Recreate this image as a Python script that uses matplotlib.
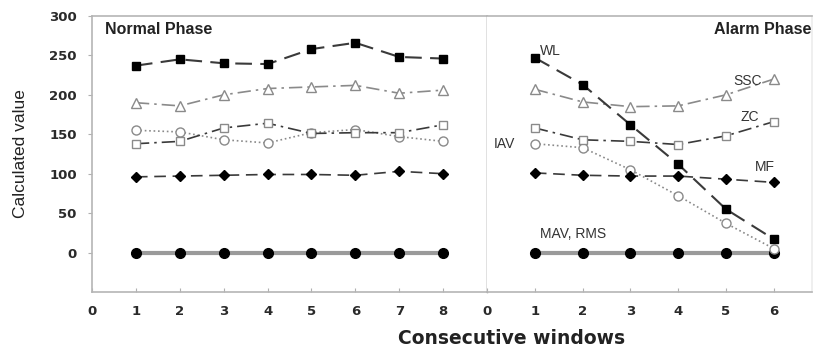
import matplotlib.pyplot as plt
import numpy as np

plt.rcParams['font.family'] = ['Liberation Sans', 'DejaVu Sans']

# normal phase, windows 1..8
normal_x = [1, 2, 3, 4, 5, 6, 7, 8]
normal_wl = [237, 245, 240, 239, 258, 266, 248, 246]
normal_ssc = [190, 186, 200, 208, 210, 212, 202, 206]
normal_zc = [138, 141, 158, 164, 151, 152, 152, 162]
normal_iav = [155, 153, 143, 139, 152, 156, 147, 141]
normal_mf = [96, 97, 98, 99, 99, 98, 103, 100]
normal_mav = [0, 0, 0, 0, 0, 0, 0, 0]

# alarm phase, windows 1..6
alarm_x = [1, 2, 3, 4, 5, 6]
alarm_wl = [247, 213, 162, 112, 55, 17]
alarm_ssc = [207, 191, 185, 186, 200, 220]
alarm_zc = [158, 143, 141, 137, 148, 166]
alarm_iav = [138, 133, 105, 72, 37, 5]
alarm_mf = [101, 98, 97, 97, 93, 89]
alarm_mav = [0, 0, 0, 0, 0, 0]

grey = '#8a8a8a'
dark = '#3a3a3a'


def draw(ax, x, wl, ssc, zc, iav, mf, mav):
    ax.plot(x, mav, '-', color='#9a9a9a', lw=3, marker='o', ms=7,
            mfc='black', mec='black', zorder=2)
    ax.plot(x, iav, ':', color=grey, lw=1.2, marker='o', ms=6.5,
            mfc='white', mec=grey, zorder=3)
    ax.plot(x, zc, color=dark, lw=1.2, dashes=[8, 3, 1.5, 3], marker='s', ms=6,
            mfc='white', mec=grey, zorder=3)
    ax.plot(x, ssc, color=grey, lw=1.2, dashes=[8, 3, 1.5, 3], marker='^', ms=7,
            mfc='white', mec=grey, zorder=3)
    ax.plot(x, mf, color=dark, lw=1.2, dashes=[7, 4], marker='D', ms=5.5,
            mfc='black', mec='black', zorder=4)
    ax.plot(x, wl, color=dark, lw=1.5, dashes=[8, 4], marker='s', ms=6,
            mfc='black', mec='black', zorder=5)


fig = plt.figure(figsize=(8.18, 3.47), dpi=100)
ax1 = fig.add_axes([0.1125, 0.1585, 0.4829, 0.7955])
ax2 = fig.add_axes([0.5954, 0.1585, 0.3973, 0.7955], sharey=ax1)

draw(ax1, normal_x, normal_wl, normal_ssc, normal_zc, normal_iav, normal_mf, normal_mav)
draw(ax2, alarm_x, alarm_wl, alarm_ssc, alarm_zc, alarm_iav, alarm_mf, alarm_mav)

ax1.set_xlim(0, 9)
ax2.set_xlim(0, 6.8)
ax1.set_ylim(-50, 300)
ax1.set_yticks(range(0, 301, 50))
ax1.set_xticks(range(0, 9))
ax2.set_xticks(range(0, 7))

tick_font = dict(family='DejaVu Sans', weight='bold', size=9.5)
for ax in (ax1, ax2):
    for s in ax.spines.values():
        s.set_color('#b5b5b5')
        s.set_linewidth(1.2)
    ax.tick_params(axis='x', direction='in', length=3, color='#b0b0b0',
                   labelcolor='#2a2a2a', pad=9)
    for lab in ax.get_xticklabels():
        lab.set_fontproperties(tick_font)
ax1.spines['right'].set_color('#666666')
ax1.spines['right'].set_linewidth(1.0)
ax2.spines['left'].set_visible(False)
ax2.spines['right'].set_color('#ececec')
ax2.tick_params(axis='y', left=False, labelleft=False)
ax1.tick_params(axis='y', direction='out', length=3, color='#b0b0b0',
                labelcolor='#2a2a2a', pad=8)
for lab in ax1.get_yticklabels():
    lab.set_fontproperties(tick_font)
# the reference shows this last label half cut at the right edge
ax2.text(7, -0.056, '7', transform=ax2.get_xaxis_transform(), ha='center',
         va='top', color='#2a2a2a', **tick_font)

ax1.set_ylabel('Calculated value', fontsize=12.5, color='#222222', labelpad=15)
fig.text(0.625, 0.025, 'Consecutive windows', ha='center', va='center',
         family='DejaVu Sans', fontsize=13.5, fontweight='bold', color='#222222')

ax1.text(0.3, 283, 'Normal Phase', fontsize=11.5, fontweight='bold',
         color='#222222', va='center')
ax2.text(6.78, 283, 'Alarm Phase', fontsize=11.5, fontweight='bold',
         color='#222222', va='center', ha='right')

lab_kw = dict(fontsize=10, color='#333333', va='center')
ax2.text(1.1, 256, 'WL', **lab_kw)
ax2.text(5.15, 218, 'SSC', **lab_kw)
ax2.text(5.3, 172, 'ZC', **lab_kw)
ax2.text(0.15, 138, 'IAV', **lab_kw)
ax2.text(5.6, 109, 'MF', **lab_kw)
ax2.text(1.1, 23, 'MAV, RMS', **lab_kw)

plt.savefig('out.png', dpi=100)
